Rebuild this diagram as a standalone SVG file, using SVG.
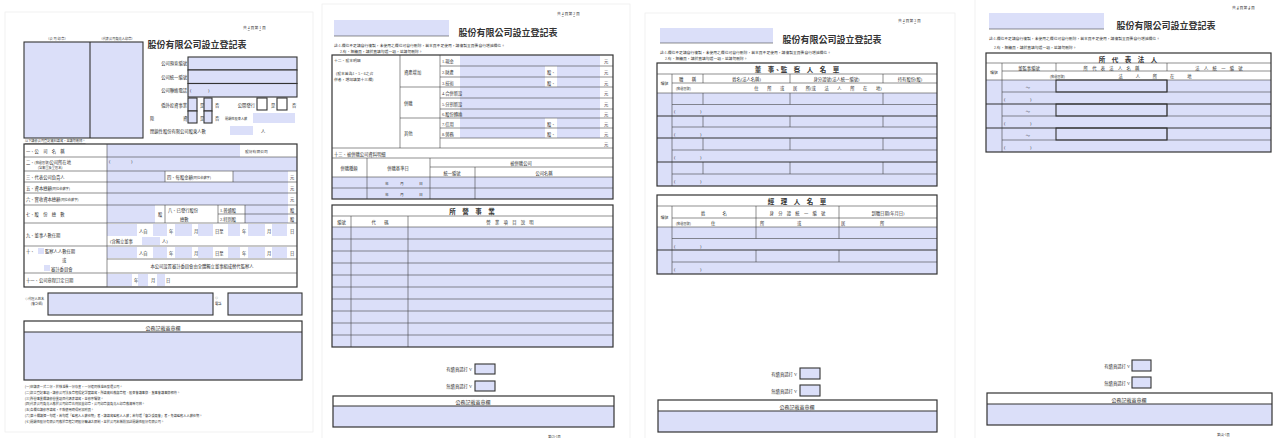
<svg xmlns="http://www.w3.org/2000/svg" width="1277" height="438" viewBox="0 0 1277 438">
<style>
.f{fill:#dbdff9}
.fb{fill:#dbdff9;stroke:#333;stroke-width:1.1}
.wb{fill:#fff;stroke:#333;stroke-width:1.1}
.bx{fill:none;stroke:#333;stroke-width:1.2}
.ln{stroke:#444;stroke-width:0.6;fill:none}
.lt{stroke:#333;stroke-width:1.1;fill:none}
.pg{fill:#fff;stroke:#eee;stroke-width:0.8}
text{font-family:"Liberation Serif","Noto Sans CJK TC",serif;fill:#333;font-size:4.3px}
.t{font-size:9px;font-weight:bold}
.h{font-size:6.5px;font-weight:bold}
.m{text-anchor:middle}
.e{text-anchor:end}
.s3{font-size:3.2px}
.s4{font-size:3.8px}
.s5{font-size:5px}
</style>
<rect width="1277" height="438" fill="#fff"/>
<g id="pages">
<rect class="pg" x="5" y="12" width="308" height="420"/>
<rect class="pg" x="322" y="4" width="308" height="440"/>
<rect class="pg" x="645" y="13" width="310" height="430"/>
<rect class="pg" x="975" y="-2" width="305" height="445"/>
</g>

<!-- PAGE 1 -->
<g id="p1-header">
<text x="243" y="29" class="s4">共 <tspan text-decoration="underline">4</tspan> 頁第 <tspan text-decoration="underline">1</tspan> 頁</text>
<text x="57" y="39.5" class="m s3">（公 司 印 章）</text>
<text x="117" y="39.5" class="m s3">（代表公司負責人印章）</text>
<rect class="fb" x="24" y="42" width="119" height="96"/>
<line class="lt" x1="90" y1="42" x2="90" y2="138"/>
<text x="197" y="48" class="t m">股份有限公司設立登記表</text>
</g>
<g id="p1-fields">
<text x="187" y="65" class="e">公司預查編號</text>
<rect class="fb" x="188" y="57" width="109" height="13"/>
<text x="187" y="78.5" class="e">公司統一編號</text>
<rect class="fb" x="188" y="70" width="109" height="13.5"/>
<text x="187" y="92" class="e">公司聯絡電話</text>
<rect class="fb" x="188" y="83.5" width="109" height="13.5"/>
<text x="190" y="92">(</text><text x="208" y="92">)</text>
<text x="187" y="107" class="e">僑外投資事業</text>
<rect class="fb" x="188" y="98" width="9" height="13"/>
<text x="200" y="107">是</text>
<rect class="fb" x="204" y="98" width="8" height="13"/>
<text x="215" y="107">否</text>
<text x="255" y="107" class="e">公開發行</text>
<rect class="wb" x="257" y="98" width="10" height="12"/>
<text x="271" y="107">是</text>
<rect class="wb" x="277" y="98" width="10" height="12"/>
<text x="292" y="107">否</text>
<text x="150" y="120">陸</text><text x="183" y="120">資</text>
<rect class="fb" x="188" y="111" width="9" height="12"/>
<text x="200" y="120">是</text>
<rect class="fb" x="204" y="111" width="8" height="12"/>
<text x="215" y="120">否</text>
<text x="225" y="120" class="s3">閉鎖性股東人數</text>
<rect class="f" x="253" y="113" width="42" height="10"/>
<text x="150" y="133">閉鎖性股份有限公司股東人數</text>
<rect class="f" x="230" y="126" width="23" height="9"/>
<text x="261" y="133">人</text>
<text x="25" y="142" class="s3" text-decoration="underline">以下請依公司登記資料填寫，並請勿刪除。</text>
</g>
<g id="p1-table">
<rect class="f" x="107" y="144" width="133" height="13"/>
<rect class="f" x="107" y="157" width="190" height="14"/>
<rect class="f" x="107" y="171" width="58" height="11"/>
<rect class="f" x="233" y="171" width="55" height="11"/>
<rect class="f" x="107" y="182" width="181" height="11"/>
<rect class="f" x="107" y="193" width="181" height="12"/>
<rect class="f" x="107" y="205" width="48" height="18"/>
<rect class="f" x="245" y="205" width="43" height="9"/>
<rect class="f" x="245" y="214" width="43" height="9"/>
<g class="f">
<rect x="107" y="224" width="30" height="12"/><rect x="153" y="224" width="14" height="12"/><rect x="175" y="224" width="17" height="12"/><rect x="198" y="224" width="15" height="12"/><rect x="228" y="224" width="12" height="12"/><rect x="248" y="224" width="17" height="12"/><rect x="272" y="224" width="15" height="12"/>
<rect x="142" y="237" width="18" height="8"/>
<rect x="107" y="247" width="30" height="11"/><rect x="153" y="247" width="14" height="11"/><rect x="175" y="247" width="17" height="11"/><rect x="198" y="247" width="15" height="11"/><rect x="228" y="247" width="12" height="11"/><rect x="248" y="247" width="17" height="11"/><rect x="272" y="247" width="15" height="11"/>
<rect x="107" y="274" width="25" height="12"/><rect x="138" y="274" width="10" height="12"/><rect x="157" y="274" width="8" height="12"/>
</g>
<rect class="bx" x="24" y="144" width="273" height="143"/>
<g class="ln">
<line x1="107" y1="144" x2="107" y2="287"/>
<line x1="24" y1="157" x2="297" y2="157"/>
<line x1="24" y1="171" x2="297" y2="171"/>
<line x1="24" y1="182" x2="297" y2="182"/>
<line x1="24" y1="193" x2="297" y2="193"/>
<line x1="24" y1="205" x2="297" y2="205"/>
<line x1="24" y1="223" x2="297" y2="223"/>
<line x1="24" y1="246" x2="297" y2="246"/>
<line x1="24" y1="273" x2="297" y2="273"/>
<line x1="165" y1="171" x2="165" y2="182"/>
<line x1="233" y1="171" x2="233" y2="182"/>
<line x1="165" y1="205" x2="165" y2="223"/>
<line x1="218" y1="205" x2="218" y2="223"/>
<line x1="245" y1="205" x2="245" y2="223"/>
<line x1="218" y1="214" x2="297" y2="214"/>
<line x1="107" y1="259" x2="297" y2="259"/>
</g>
<text x="26" y="153">一、公　司　名　稱</text>
<text x="245" y="152.5" class="s4">股份有限公司</text>
<text x="26" y="163.5">二、<tspan class="s3">(郵遞區號)</tspan>公司所在地</text>
<text x="38" y="168.5" class="s3">(含鄰里及里區名)</text>
<text x="109" y="163">(</text><text x="131" y="163">)</text>
<text x="26" y="178.5">三、代表公司負責人</text>
<text x="167" y="178.5">四、每股金額<tspan class="s3">(阿拉伯數字)</tspan></text>
<text x="290" y="178.5">元</text>
<text x="26" y="189.5">五、資本總額<tspan class="s3">(阿拉伯數字)</tspan></text>
<text x="290" y="189.5">元</text>
<text x="26" y="201">六、實收資本總額<tspan class="s3">(阿拉伯數字)</tspan></text>
<text x="290" y="201">元</text>
<text x="26" y="216">七、股　份　總　數</text>
<text x="158" y="216">股</text>
<text x="168" y="211.5">八、已發行股份</text>
<text x="180" y="220.5">總數</text>
<text x="220" y="211.5">1.普通股</text><text x="290" y="211.5">股</text>
<text x="220" y="220.5">2.特別股</text><text x="290" y="220.5">股</text>
<text x="26" y="237">九、董事人數任期</text>
<text x="139" y="232.5">人自</text><text x="169" y="232.5">年</text><text x="194" y="232.5">月</text><text x="215" y="232.5">日至</text><text x="242" y="232.5">年</text><text x="267" y="232.5">月</text><text x="290" y="232.5">日</text>
<text x="110" y="243">(含獨立董事</text><text x="162" y="243">人)</text>
<text x="26" y="253">十、</text>
<rect class="f" x="38" y="248" width="6" height="6"/>
<text x="45" y="253">監察人人數任期</text>
<text x="62" y="262">或</text>
<rect class="f" x="44" y="265" width="6" height="6"/>
<text x="51" y="270.5">審計委員會</text>
<text x="139" y="254.5">人自</text><text x="169" y="254.5">年</text><text x="194" y="254.5">月</text><text x="215" y="254.5">日至</text><text x="242" y="254.5">年</text><text x="267" y="254.5">月</text><text x="290" y="254.5">日</text>
<text x="202" y="268" class="m">本公司設置審計委員會由全體獨立董事組成替代監察人</text>
<text x="26" y="282">十一、公司章程訂定日期</text>
<text x="134" y="282">年</text><text x="151" y="282">月</text><text x="166" y="282">日</text>
</g>
<g id="p1-agent">
<text x="25" y="299.5" class="s3">◎代理人姓名</text>
<text x="31" y="304.5" class="s3">(會計師)</text>
<rect class="fb" x="48" y="293" width="165" height="22"/>
<text x="215" y="299" class="s3">◎</text>
<text x="215" y="305" class="s3">電話</text>
<rect class="fb" x="228" y="293" width="74" height="22"/>
</g>
<g id="p1-official">
<rect class="f" x="24" y="332" width="278" height="48"/>
<rect class="bx" x="24" y="321" width="278" height="59"/>
<line class="lt" x1="24" y1="332" x2="302" y2="332"/>
<text x="163" y="330" class="m s5">公務記載蓋章欄</text>
</g>
<g id="p1-notes" class="s3">
<text x="25" y="388" class="s3">(一)申請表一式二份，於核准後一份存查，一份連同核准函發還公司。</text>
<text x="25" y="394" class="s3">(二)設立登記事項，請依公司法及章程規定詳實填寫，所填資料應與章程、股東會議事錄、董事會議事錄相符。</text>
<text x="25" y="399.5" class="s3">(三)所營事業欄請依營業項目代碼表填寫，並依序編號。</text>
<text x="25" y="405" class="s3">(四)代表公司負責人應於公司印章右側加蓋印章，公司印章與負責人印章應清晰可辨。</text>
<text x="25" y="410.5" class="s3">(五)各欄位請依序填寫，不敷使用時得另加附頁。</text>
<text x="25" y="416.5" class="s3">(六)第十欄請擇一勾選，若勾選「監察人人數任期」者，請填寫監察人人數；若勾選「審計委員會」者，免填監察人人數任期。</text>
<text x="25" y="422.5" class="s3">(七)閉鎖性股份有限公司應於章程訂明股份轉讓之限制，並於公司名稱前加註閉鎖性股份有限公司。</text>
</g>

<!-- PAGE 2 -->
<g id="p2-header">
<text x="557" y="15" class="s4">共 <tspan text-decoration="underline">4</tspan> 頁第 <tspan text-decoration="underline">2</tspan> 頁</text>
<rect class="f" x="334" y="20" width="115" height="16"/>
<line class="ln" x1="334" y1="36" x2="449" y2="36"/>
<text x="508" y="36" class="t m">股份有限公司設立登記表</text>
<text x="334" y="46.5" class="s4">註:1.欄位不足請自行複製，未使用之欄位可自行刪除，若本頁不足使用，請複製全頁後自行增減欄位。</text>
<text x="340" y="53" class="s4">2.有、無續頁，請於直填勾選一項，並請勿刪除。</text>
</g>
<g id="p2-capital">
<g class="f">
<rect x="460" y="55" width="140" height="11"/>
<rect x="460" y="66" width="85" height="11"/><rect x="557" y="66" width="43" height="11"/>
<rect x="460" y="77" width="85" height="10"/><rect x="557" y="77" width="43" height="10"/>
<rect x="460" y="87" width="140" height="11"/>
<rect x="460" y="98" width="140" height="11"/>
<rect x="460" y="109" width="140" height="9"/>
<rect x="460" y="118" width="85" height="10"/><rect x="557" y="118" width="43" height="10"/>
<rect x="460" y="128" width="85" height="10"/><rect x="557" y="128" width="43" height="10"/>
</g>
<g class="ln">
<line x1="400" y1="55" x2="400" y2="148"/>
<line x1="440" y1="55" x2="440" y2="148"/>
<line x1="440" y1="66" x2="613" y2="66"/>
<line x1="440" y1="77" x2="613" y2="77"/>
<line x1="400" y1="87" x2="613" y2="87"/>
<line x1="440" y1="98" x2="613" y2="98"/>
<line x1="440" y1="109" x2="613" y2="109"/>
<line x1="400" y1="118" x2="613" y2="118"/>
<line x1="440" y1="128" x2="613" y2="128"/>
<line x1="440" y1="138" x2="613" y2="138"/>
<line x1="332" y1="148" x2="613" y2="148"/>
</g>
<text x="334" y="62" class="s4">十二、股本明細</text>
<text x="336" y="75" class="s4">(股本若為1、5、6之合</text>
<text x="334" y="81" class="s4">併者，增加填第十三欄)</text>
<text x="404" y="73.5">資產增加</text>
<text x="404" y="104.5">併購</text>
<text x="404" y="135">其他</text>
<text x="442" y="63">1.現金</text><text x="604" y="63">元</text>
<text x="442" y="74">2.財產</text><text x="547" y="74">股、</text><text x="604" y="74">元</text>
<text x="442" y="84.5">3.技術</text><text x="547" y="84.5">股、</text><text x="604" y="84.5">元</text>
<text x="442" y="95">4.合併新設</text><text x="604" y="95">元</text>
<text x="442" y="106">5.分割新設</text><text x="604" y="106">元</text>
<text x="442" y="116">6.股份轉換</text><text x="604" y="116">元</text>
<text x="442" y="125.5">7.信用</text><text x="547" y="125.5">股、</text><text x="604" y="125.5">元</text>
<text x="442" y="135.5">8.勞務</text><text x="547" y="135.5">股、</text><text x="604" y="135.5">元</text>
<text x="604" y="145.5">元</text>
</g>
<g id="p2-merger">
<g class="f">
<rect x="332" y="177" width="281" height="22"/>
</g>
<g class="ln">
<line x1="332" y1="158" x2="613" y2="158"/>
<line x1="367" y1="158" x2="367" y2="199"/>
<line x1="430" y1="158" x2="430" y2="199"/>
<line x1="475" y1="167" x2="475" y2="199"/>
<line x1="430" y1="167" x2="613" y2="167"/>
<line x1="332" y1="177" x2="613" y2="177"/>
<line x1="332" y1="188" x2="613" y2="188"/>
</g>
<text x="334" y="155.5">十三、被併購公司資料明細</text>
<text x="349" y="169.5" class="m">併購種類</text>
<text x="398" y="169.5" class="m">併購基準日</text>
<text x="521" y="164.5" class="m">被併購公司</text>
<text x="452" y="174.5" class="m">統一編號</text>
<text x="544" y="174.5" class="m">公司名稱</text>
<text x="385" y="185" class="s4">年</text><text x="400" y="185" class="s4">月</text><text x="419" y="185" class="s4">日</text>
<text x="385" y="196" class="s4">年</text><text x="400" y="196" class="s4">月</text><text x="419" y="196" class="s4">日</text>
<rect class="bx" x="332" y="55" width="281" height="144"/>
</g>
<g id="p2-business">
<rect class="f" x="332" y="227" width="281" height="120"/>
<g class="ln">
<line x1="332" y1="216" x2="613" y2="216"/>
<line x1="332" y1="227" x2="613" y2="227"/>
<line x1="351" y1="216" x2="351" y2="347"/>
<line x1="408" y1="216" x2="408" y2="347"/>
<line x1="332" y1="239" x2="613" y2="239"/>
<line x1="332" y1="251" x2="613" y2="251"/>
<line x1="332" y1="263" x2="613" y2="263"/>
<line x1="332" y1="275" x2="613" y2="275"/>
<line x1="332" y1="287" x2="613" y2="287"/>
<line x1="332" y1="299" x2="613" y2="299"/>
<line x1="332" y1="311" x2="613" y2="311"/>
<line x1="332" y1="323" x2="613" y2="323"/>
<line x1="332" y1="335" x2="613" y2="335"/>
</g>
<rect class="bx" x="332" y="205" width="281" height="142"/>
<text x="472" y="214" class="h m">所　營　事　業</text>
<text x="341.5" y="224" class="m">編號</text>
<text x="380" y="224" class="m">代　　碼</text>
<text x="510" y="224" class="m">營　業　項　目　說　明</text>
</g>
<g id="p2-footer">
<text x="472" y="371" class="e">有續頁請打 V</text>
<rect class="fb" x="475" y="364" width="20" height="10"/>
<text x="472" y="388" class="e">無續頁請打 V</text>
<rect class="fb" x="475" y="381" width="20" height="10"/>
<rect class="f" x="333" y="406" width="281" height="21"/>
<rect class="bx" x="333" y="396" width="281" height="31"/>
<line class="lt" x1="333" y1="406" x2="614" y2="406"/>
<text x="473" y="404" class="m s5">公務記載蓋章欄</text>
<text x="548" y="438" class="s3">第(2)-1頁</text>
</g>

<!-- PAGE 3 -->
<g id="p3-header">
<text x="898" y="22" class="s4">共 <tspan text-decoration="underline">4</tspan> 頁第 <tspan text-decoration="underline">3</tspan> 頁</text>
<rect class="f" x="660" y="28" width="113" height="15"/>
<line class="ln" x1="660" y1="43" x2="773" y2="43"/>
<text x="832" y="43" class="t m">股份有限公司設立登記表</text>
<text x="660" y="54" class="s4">註:1.欄位不足請自行複製，未使用之欄位可自行刪除，若本頁不足使用，請複製全頁後自行增減欄位。</text>
<text x="665" y="60" class="s4">2.有、無續頁，請於直填勾選一項，並請勿刪除。</text>
</g>
<g id="p3-directors">
<rect class="f" x="657" y="93" width="280" height="93"/>
<g class="ln">
<line x1="657" y1="74" x2="937" y2="74"/>
<line x1="672" y1="83" x2="937" y2="83"/>
<line x1="657" y1="93" x2="937" y2="93"/>
<line x1="672" y1="74" x2="672" y2="186"/>
<line x1="703" y1="74" x2="703" y2="83"/>
<line x1="790" y1="74" x2="790" y2="83"/>
<line x1="883" y1="74" x2="883" y2="83"/>
<line x1="672" y1="104.5" x2="937" y2="104.5"/>
<line x1="672" y1="127" x2="937" y2="127"/>
<line x1="672" y1="150" x2="937" y2="150"/>
<line x1="672" y1="174" x2="937" y2="174"/>
<line x1="703" y1="93" x2="703" y2="104.5"/><line x1="790" y1="93" x2="790" y2="104.5"/><line x1="883" y1="93" x2="883" y2="104.5"/>
<line x1="703" y1="116" x2="703" y2="127"/><line x1="790" y1="116" x2="790" y2="127"/><line x1="883" y1="116" x2="883" y2="127"/>
<line x1="703" y1="138" x2="703" y2="150"/><line x1="790" y1="138" x2="790" y2="150"/><line x1="883" y1="138" x2="883" y2="150"/>
<line x1="703" y1="162" x2="703" y2="174"/><line x1="790" y1="162" x2="790" y2="174"/><line x1="883" y1="162" x2="883" y2="174"/>
</g>
<g class="lt">
<line x1="657" y1="116" x2="937" y2="116"/>
<line x1="657" y1="138" x2="937" y2="138"/>
<line x1="657" y1="162" x2="937" y2="162"/>
</g>
<rect class="bx" x="657" y="63" width="280" height="123"/>
<text x="797" y="72" class="h m">董　事、監　察　人　名　單</text>
<text x="664.5" y="85" class="m s4">編號</text>
<text x="687.5" y="81" class="m">職　　稱</text>
<text x="746.5" y="81" class="m">姓名(法人名稱)</text>
<text x="836.5" y="81" class="m">身分證號(法人統一編號)</text>
<text x="910" y="81" class="m">持有股份(股)</text>
<text x="676" y="90" class="s3">(郵遞區號)</text>
<text x="818" y="90" class="m">住　　所　　或　　居　　所(或　　法　　人　　所　　在　　地)</text>
<text x="674" y="113">(</text><text x="700" y="113">)</text>
<text x="674" y="135.5">(</text><text x="700" y="135.5">)</text>
<text x="674" y="159">(</text><text x="700" y="159">)</text>
<text x="674" y="183">(</text><text x="700" y="183">)</text>
</g>
<g id="p3-managers">
<rect class="f" x="657" y="227" width="280" height="47"/>
<g class="ln">
<line x1="657" y1="206" x2="937" y2="206"/>
<line x1="672" y1="218" x2="937" y2="218"/>
<line x1="657" y1="227" x2="937" y2="227"/>
<line x1="672" y1="206" x2="672" y2="274"/>
<line x1="756" y1="206" x2="756" y2="227"/>
<line x1="839" y1="206" x2="839" y2="227"/>
<line x1="672" y1="238.5" x2="937" y2="238.5"/>
<line x1="672" y1="262" x2="937" y2="262"/>
<line x1="756" y1="227" x2="756" y2="238.5"/><line x1="839" y1="227" x2="839" y2="238.5"/>
<line x1="756" y1="250" x2="756" y2="262"/><line x1="839" y1="250" x2="839" y2="262"/>
</g>
<line class="lt" x1="657" y1="250" x2="937" y2="250"/>
<rect class="bx" x="657" y="195" width="280" height="79"/>
<text x="797" y="203.5" class="h m">經　理　人　名　單</text>
<text x="664.5" y="219" class="m s4">編號</text>
<text x="714" y="214.5" class="m">姓　　　　名</text>
<text x="797.5" y="214.5" class="m">身　分　證　統　一　編　號</text>
<text x="888" y="214.5" class="m">到職日期(年月日)</text>
<text x="676" y="225" class="s3">(郵遞區號)</text>
<text x="711" y="225">住</text><text x="760" y="225">所</text><text x="797" y="225">或</text><text x="841" y="225">居</text><text x="880" y="225">所</text>
<text x="674" y="247.5">(</text><text x="700" y="247.5">)</text>
<text x="674" y="271">(</text><text x="700" y="271">)</text>
</g>
<g id="p3-footer">
<text x="797" y="375.5" class="e">有續頁請打 V</text>
<rect class="fb" x="800" y="368" width="20" height="11"/>
<text x="797" y="393" class="e">無續頁請打 V</text>
<rect class="fb" x="800" y="385" width="20" height="11"/>
<rect class="f" x="658" y="411" width="279" height="21"/>
<rect class="bx" x="658" y="400" width="279" height="32"/>
<line class="lt" x1="658" y1="411" x2="937" y2="411"/>
<text x="797" y="408.5" class="m s5">公務記載蓋章欄</text>
</g>

<!-- PAGE 4 -->
<g id="p4-header">
<text x="1232" y="8.5" class="s4">共 <tspan text-decoration="underline">4</tspan> 頁第 <tspan text-decoration="underline">4</tspan> 頁</text>
<rect class="f" x="989" y="13" width="115" height="16"/>
<line class="ln" x1="989" y1="29" x2="1104" y2="29"/>
<text x="1166" y="29" class="t m">股份有限公司設立登記表</text>
<text x="989" y="40" class="s4">註:1.欄位不足請自行複製，未使用之欄位可自行刪除，若本頁不足使用，請複製全頁後自行增減欄位。</text>
<text x="994" y="49" class="s4">2.有、無續頁，請於直填勾選一項，並請勿刪除。</text>
</g>
<g id="p4-reps">
<rect class="f" x="986" y="80" width="285" height="72"/>
<g class="ln">
<line x1="986" y1="63" x2="1271" y2="63"/>
<line x1="1002" y1="71" x2="1271" y2="71"/>
<line x1="986" y1="80" x2="1271" y2="80"/>
<line x1="1002" y1="63" x2="1002" y2="152"/>
<line x1="1056" y1="63" x2="1056" y2="71"/>
<line x1="1167" y1="63" x2="1167" y2="71"/>
<line x1="1002" y1="92" x2="1271" y2="92"/>
<line x1="1002" y1="116" x2="1271" y2="116"/>
<line x1="1002" y1="140" x2="1271" y2="140"/>
<line x1="1167" y1="80" x2="1167" y2="92"/>
<line x1="1167" y1="104" x2="1167" y2="116"/>
<line x1="1167" y1="128" x2="1167" y2="140"/>
</g>
<g class="lt">
<line x1="986" y1="104" x2="1271" y2="104"/>
<line x1="986" y1="128" x2="1271" y2="128"/>
<rect x="1056" y="80" width="111" height="12"/>
<rect x="1056" y="104" width="111" height="12"/>
<rect x="1056" y="128" width="111" height="12"/>
</g>
<rect class="bx" x="986" y="53" width="285" height="99"/>
<text x="1128" y="61.5" class="h m">所　代　表　法　人</text>
<text x="994" y="74" class="m s4">編號</text>
<text x="1029" y="69.5" class="m">董監事編號</text>
<text x="1111.5" y="69.5" class="m">所　代　表　法　人　名　稱</text>
<text x="1219" y="69.5" class="m">法　人　統　一　編　號</text>
<text x="1050" y="78" class="s3">(郵遞區號)</text>
<text x="1155" y="78" class="m">法　　　人　　　所　　　在　　　地</text>
<text x="1028" y="89" class="m">～</text>
<text x="1028" y="113" class="m">～</text>
<text x="1028" y="137" class="m">～</text>
<text x="1004" y="101">(</text><text x="1030" y="101">)</text>
<text x="1004" y="125">(</text><text x="1030" y="125">)</text>
<text x="1004" y="149">(</text><text x="1030" y="149">)</text>
</g>
<g id="p4-footer">
<text x="1130" y="367.5" class="e">有續頁請打 V</text>
<rect class="fb" x="1132" y="360" width="19" height="11"/>
<text x="1130" y="385" class="e">無續頁請打 V</text>
<rect class="fb" x="1132" y="377" width="19" height="11"/>
<rect class="f" x="987" y="404" width="285" height="21"/>
<rect class="bx" x="987" y="393" width="285" height="32"/>
<line class="lt" x1="987" y1="404" x2="1272" y2="404"/>
<text x="1129" y="401.5" class="m s5">公務記載蓋章欄</text>
<text x="1217" y="436" class="s3">第(4)-1頁</text>
</g>
</svg>
